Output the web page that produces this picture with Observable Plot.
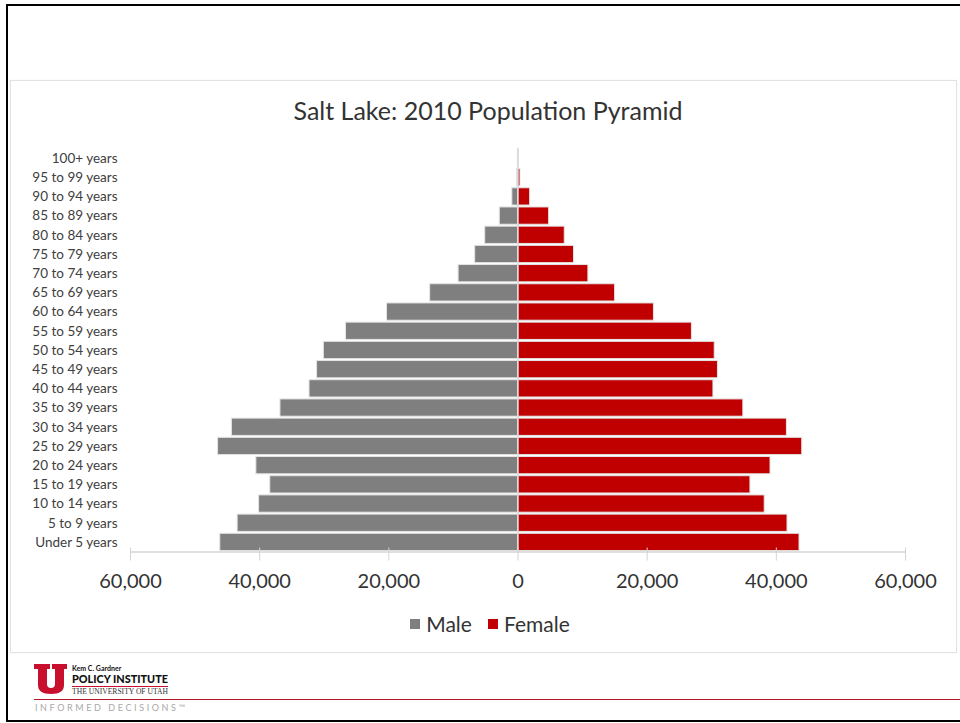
<!DOCTYPE html>
<html>
<head>
<meta charset="utf-8">
<script src="https://cdn.jsdelivr.net/npm/d3@7"></script>
<script src="https://cdn.jsdelivr.net/npm/@observablehq/plot@0.6"></script>
<style>
  html, body { margin: 0; padding: 0; background: #fff; }
  #page { position: relative; width: 960px; height: 723px; overflow: hidden; font-family: Lato, "Open Sans", sans-serif; }
  #outer { position: absolute; left: 6px; top: 4px; width: 1000px; height: 714px; border-top: 2.5px solid #000; border-left: 2.5px solid #000; border-bottom: 2.5px solid #000; }
  #box { position: absolute; left: 10px; top: 80px; width: 945px; height: 571px; border: 1.5px solid #e2e2e2; box-shadow: 0 0 1px #eee; }
  #title { position: absolute; left: 0; width: 976px; top: 95px; text-align: center; font-size: 25px; color: #333; }
  #chart { position: absolute; left: 0; top: 130px; }
  #legend { position: absolute; left: 0; width: 980px; top: 611px; display: flex; justify-content: center; align-items: center; font-size: 21px; color: #333; gap: 0; }
  #legend .sw { display: inline-block; width: 10px; height: 10px; margin-right: 6px; }
  #legend .item { display: flex; align-items: center; margin: 0 8px; }
  #logo { position: absolute; left: 0; top: 0; }
</style>
</head>
<body>
<div id="page">
  <div id="outer"></div>
  <div id="box"></div>
  <div id="title">Salt Lake: 2010 Population Pyramid</div>
  <div id="chart"></div>
  <div id="legend"></div>
  <svg id="logo" width="960" height="723">
    <path d="M34,664 H50 V669 H47 V684 Q47,688 51,688 Q55,688 55,684 V669 H52 V664 H67 V669 H64 V685 Q64,694 51,694 Q38,694 38,685 V669 H34 Z" fill="#c8102e"/>
    <text x="72" y="671" font-family="Lato, sans-serif" font-weight="bold" font-size="7" fill="#111">Kem C. Gardner</text>
    <text x="72" y="683" font-family="Lato, sans-serif" font-weight="900" font-size="12" fill="#111" textLength="96" lengthAdjust="spacingAndGlyphs">POLICY INSTITUTE</text>
    <line x1="72" y1="686.5" x2="168" y2="686.5" stroke="#c8102e" stroke-width="1.2"/>
    <text x="72" y="694" font-family="'Liberation Serif', serif" font-size="8" fill="#333" textLength="96" lengthAdjust="spacingAndGlyphs">THE UNIVERSITY OF UTAH</text>
    <line x1="34" y1="699.5" x2="960" y2="699.5" stroke="#b5162b" stroke-width="1"/>
    <text x="35" y="711" font-family="Lato, sans-serif" font-size="9" fill="#a8a8a8" letter-spacing="2.6">INFORMED DECISIONS™</text>
  </svg>
</div>
<script>
// Age groups (top to bottom as drawn)
const ageGroups = [
  "100+ years", "95 to 99 years", "90 to 94 years", "85 to 89 years", "80 to 84 years",
  "75 to 79 years", "70 to 74 years", "65 to 69 years", "60 to 64 years", "55 to 59 years",
  "50 to 54 years", "45 to 49 years", "40 to 44 years", "35 to 39 years", "30 to 34 years",
  "25 to 29 years", "20 to 24 years", "15 to 19 years", "10 to 14 years", "5 to 9 years",
  "Under 5 years"
];
// Male population (same order)
const maleValues = [
  30, 150, 880, 2820, 5080, 6630, 9200, 13600, 20280, 26630,
  30060, 31110, 32280, 36780, 44300, 46440, 40510, 38360, 40090, 43410,
  46100
];
// Female population (same order)
const femaleValues = [
  80, 380, 1880, 4820, 7240, 8670, 10900, 15040, 21050, 26930,
  30460, 30960, 30260, 34890, 41640, 44010, 39100, 35990, 38200, 41730,
  43590
];
const xTicks = [-60000, -40000, -20000, 0, 20000, 40000, 60000];
const seriesNames = ["Male", "Female"];
const seriesColors = ["#7f7f7f", "#c00000"];

const rows = [];
ageGroups.forEach((a, i) => {
  rows.push({age: a, sex: "Male", value: -maleValues[i]});
  rows.push({age: a, sex: "Female", value: femaleValues[i]});
});

const H = 470;
const chart = Plot.plot({
  width: 960,
  height: H,
  marginLeft: 130,
  marginRight: 55,
  marginTop: 17.44,
  marginBottom: H - 422.5,
  style: {fontFamily: "Lato, 'Open Sans', sans-serif", color: "#404040", background: "transparent"},
  x: {domain: [-60000, 60000], label: null},
  y: {domain: ageGroups, padding: 0.1, round: false, label: null},
  color: {domain: seriesNames, range: seriesColors},
  marks: [
    Plot.barX(rows, {x: "value", y: "age", fill: "sex", stroke: "#e4e4e4", strokeWidth: 1}),
    Plot.ruleX([0], {stroke: "#d9d9d9", strokeWidth: 1.5}),
    Plot.ruleY([ageGroups[ageGroups.length - 1]], {x1: -60000, x2: 60000, dy: 9.6, stroke: "#d4d4d4", strokeWidth: 1.5}),
    Plot.axisX({ticks: xTicks, tickSize: 13, dy: -5, tickPadding: 13, stroke: "#d4d4d4",
      tickFormat: d => d3.format(",")(Math.abs(d)), fontSize: 20, fill: "#333"}),
    Plot.axisY({tickSize: 0, tickPadding: 13, fontSize: 13.5, fill: "#404040"})
  ]
});
document.getElementById("chart").appendChild(chart);

const legend = document.getElementById("legend");
seriesNames.forEach((n, i) => {
  const item = document.createElement("span");
  item.className = "item";
  const sw = document.createElement("span");
  sw.className = "sw";
  sw.style.background = seriesColors[i];
  item.appendChild(sw);
  item.appendChild(document.createTextNode(n));
  legend.appendChild(item);
});
</script>
</body>
</html>
